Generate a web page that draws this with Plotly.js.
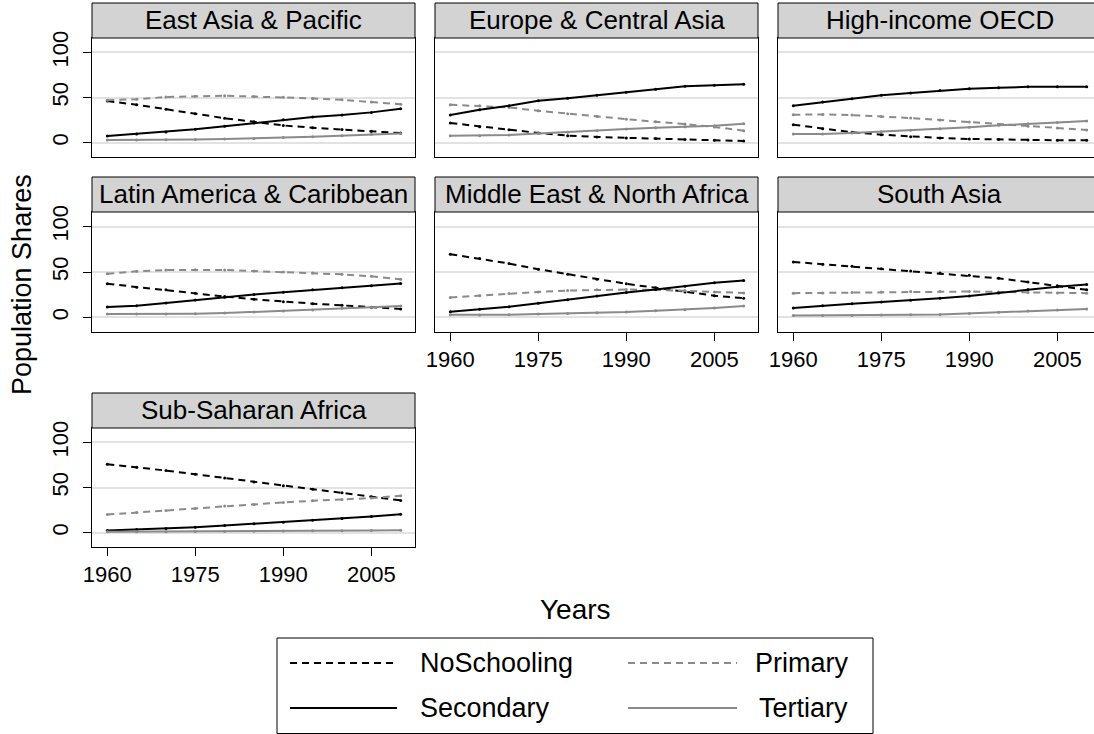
<!DOCTYPE html>
<html>
<head>
<meta charset="utf-8">
<script src="https://cdn.plot.ly/plotly-3.0.1.min.js"></script>
<style>html,body{margin:0;padding:0;background:#fff;}#chart{width:1094px;height:734px;}</style>
</head>
<body>
<div id="chart"></div>
<script>
// ---------- DATA ----------
const years = [1960, 1965, 1970, 1975, 1980, 1985, 1990, 1995, 2000, 2005, 2010];
const regions = ["East Asia & Pacific", "Europe & Central Asia", "High-income OECD",
  "Latin America & Caribbean", "Middle East & North Africa", "South Asia", "Sub-Saharan Africa"];
const seriesNames = ["NoSchooling", "Primary", "Secondary", "Tertiary"];
const xTickLabels = [1960, 1975, 1990, 2005];
const yTickLabels = [0, 50, 100];

const eapNoSchooling = [46, 42, 37, 32, 27, 23, 19, 16.5, 14.5, 12.5, 10.5];
const eapPrimary     = [47, 48, 50.5, 51.5, 52, 51, 50.4, 49, 47.4, 45, 42.5];
const eapSecondary   = [7.4, 9.6, 11.8, 14.7, 18, 21.7, 25.4, 28.3, 30.5, 33.5, 37.5];
const eapTertiary    = [2.9, 2.9, 3, 3.3, 4, 4.4, 5.5, 6.6, 7.7, 9.2, 10];

const ecaNoSchooling = [21.7, 17.6, 14.3, 10.7, 7.7, 6.2, 5.1, 4.4, 3.3, 2.6, 1.8];
const ecaPrimary     = [41.9, 40.8, 39, 35.3, 32, 29, 26, 23, 20.6, 17.3, 13.2];
const ecaSecondary   = [30.5, 36.4, 40.8, 46.3, 49.3, 52.6, 55.9, 59.2, 62.5, 63.6, 64.7];
const ecaTertiary    = [7.7, 7.7, 8.5, 10, 11.4, 13.2, 15, 16.5, 17.6, 18.8, 21];

const hioNoSchooling = [19.9, 15.4, 11.4, 8.8, 6.6, 5.1, 4, 3.3, 2.9, 2.6, 2.6];
const hioPrimary     = [30.9, 31.2, 30.5, 29, 27.2, 25, 22.8, 20.2, 18, 16.2, 14];
const hioSecondary   = [40.8, 44.9, 48.5, 52.6, 55.1, 57.7, 59.6, 60.7, 61.8, 61.8, 61.8];
const hioTertiary    = [9.6, 9.6, 10.7, 12.1, 13.6, 15.4, 16.9, 19.1, 21, 22.4, 23.9];

const lacNoSchooling = [37, 33.3, 30.4, 26.7, 23, 20, 17.4, 15.2, 13.3, 11.1, 9.3];
const lacPrimary     = [48, 50.7, 52.2, 52.6, 52.2, 51, 50, 48.9, 47.4, 45.2, 41.9];
const lacSecondary   = [11.5, 13, 16, 19.3, 22.2, 25.2, 27.8, 30.4, 32.6, 34.8, 37.4];
const lacTertiary    = [3.7, 3.7, 3.7, 4, 4.8, 5.9, 7, 8.1, 10, 11.1, 12.6];

const menaNoSchooling = [69.6, 64.8, 59.3, 53, 47.4, 41.9, 37, 32.6, 28.1, 24, 21.1];
const menaPrimary     = [21.9, 24, 26.3, 28.1, 29.6, 30.4, 30.7, 30.4, 29.6, 28.1, 27];
const menaSecondary   = [6.3, 8.9, 11.9, 15.6, 19.6, 23.7, 27.4, 30.7, 34.4, 38.1, 40.7];
const menaTertiary    = [3, 2.6, 3, 3.7, 4.4, 5.2, 5.9, 7.4, 8.5, 10.4, 12.6];

const saNoSchooling = [61.1, 58.5, 56.3, 53.7, 51.1, 48.9, 46.3, 43, 38.9, 34.8, 30.4];
const saPrimary     = [26.7, 27, 27.4, 28.1, 28.5, 28.5, 28.5, 28.1, 27.4, 27, 26.7];
const saSecondary   = [10.4, 13, 15.2, 17, 18.9, 21.1, 23.7, 27, 30.7, 33.7, 36.3];
const saTertiary    = [2.2, 2.2, 2.2, 2.6, 3, 3.3, 4.4, 5.6, 7, 8.1, 9.3];

const ssaNoSchooling = [75.8, 72.5, 68.8, 64.7, 60.6, 56.1, 52, 48, 44.2, 39.8, 35.7];
const ssaPrimary     = [20, 22.3, 24.5, 26.8, 29.4, 31.2, 33.5, 35.3, 36.8, 38.3, 40.9];
const ssaSecondary   = [2.2, 3.3, 4.5, 5.9, 7.8, 9.7, 11.5, 13.8, 15.6, 17.8, 20.4];
const ssaTertiary    = [0.8, 0.9, 1, 1.1, 1.3, 1.5, 1.7, 1.9, 2.1, 2.4, 2.7];

// ---------- BUILD ----------
const regionData = [
  [eapNoSchooling, eapPrimary, eapSecondary, eapTertiary],
  [ecaNoSchooling, ecaPrimary, ecaSecondary, ecaTertiary],
  [hioNoSchooling, hioPrimary, hioSecondary, hioTertiary],
  [lacNoSchooling, lacPrimary, lacSecondary, lacTertiary],
  [menaNoSchooling, menaPrimary, menaSecondary, menaTertiary],
  [saNoSchooling, saPrimary, saSecondary, saTertiary],
  [ssaNoSchooling, ssaPrimary, ssaSecondary, ssaTertiary]
];

const W = 1094, H = 734;
const FONT = "Liberation Sans, Arial, Helvetica, sans-serif";
const GRAY = "#8a8a8a";
const styles = [
  {color: "#000000", dash: "7px,5px"},
  {color: GRAY, dash: "7px,5px"},
  {color: "#000000", dash: "solid"},
  {color: GRAY, dash: "solid"}
];
const px = v => v / W;
const py = v => 1 - v / H;

const colLeft = [92, 435, 778];
const colW = 323;
const rowTop = [38, 212, 428];
const plotH = 119;
const stripH = 35;
const pxPerYear = 5.868;
const xMin = 1960 - 15.3 / pxPerYear;

const traces = [];
const layout = {
  width: W, height: H,
  margin: {l: 0, r: 0, t: 0, b: 0},
  paper_bgcolor: "#ffffff",
  plot_bgcolor: "#ffffff",
  showlegend: false,
  font: {family: FONT, color: "#000000"},
  shapes: [],
  annotations: []
};

const xLabelPanels = [4, 5, 6]; // 0-based indices with x tick labels

regionData.forEach((series, i) => {
  const row = Math.floor(i / 3), col = i % 3;
  const ax = i + 1;
  series.forEach((vals, s) => {
    traces.push({
      type: "scatter", mode: "lines+markers",
      x: years, y: vals, name: seriesNames[s],
      xaxis: "x" + ax, yaxis: "y" + ax,
      line: {color: styles[s].color, dash: styles[s].dash, width: 2},
      marker: {color: styles[s].color, size: 3},
      hoverinfo: "x+y+name"
    });
  });
  const L = colLeft[col];
  const R = col === 2 ? W : L + colW;
  const T = rowTop[row];
  const B = T + plotH + (row === 1 ? 1 : 0);
  const xMax = xMin + (R - L) / pxPerYear;
  const showX = xLabelPanels.includes(i);
  layout["xaxis" + ax] = {
    domain: [px(L), px(R)],
    anchor: "y" + ax,
    range: [xMin, xMax],
    tickvals: xTickLabels,
    ticktext: xTickLabels.map(String),
    showticklabels: showX,
    ticks: showX ? "outside" : "",
    ticklen: 8, tickwidth: 1, tickcolor: "#000",
    tickfont: {size: 22, family: FONT},
    showgrid: false, zeroline: false,
    showline: true, mirror: true, linecolor: "#000", linewidth: 1
  };
  const showY = col === 0;
  layout["yaxis" + ax] = {
    domain: [py(B), py(T)],
    anchor: "x" + ax,
    range: [-16, 116],
    tickvals: yTickLabels,
    ticktext: yTickLabels.map(String),
    showticklabels: showY,
    ticks: showY ? "outside" : "",
    ticklen: 8, tickwidth: 1, tickcolor: "#000",
    tickangle: -90,
    ticklabelstandoff: 6,
    tickfont: {size: 22, family: FONT},
    showgrid: true, gridcolor: "#e2e2e2", gridwidth: 2,
    zeroline: false,
    showline: true, mirror: col === 2 ? false : true, linecolor: "#000", linewidth: 1
  };
  // strip
  const SR = col === 2 ? L + colW : R;
  layout.shapes.push({
    type: "rect", xref: "paper", yref: "paper",
    x0: px(L), x1: px(SR), y0: py(T), y1: py(T - stripH),
    fillcolor: "#d3d3d3", line: {color: "#000", width: 1}, layer: "above"
  });
  layout.annotations.push({
    xref: "paper", yref: "paper",
    x: px((L + SR) / 2), y: py(T - stripH / 2),
    xanchor: "center", yanchor: "middle",
    text: regions[i], showarrow: false,
    font: {size: 26, family: FONT, color: "#000"}
  });
});

// axis titles
layout.annotations.push({
  xref: "paper", yref: "paper", x: px(22), y: py(285),
  xanchor: "center", yanchor: "middle", textangle: -90,
  text: "Population Shares", showarrow: false,
  font: {size: 27, family: FONT}
});
layout.annotations.push({
  xref: "paper", yref: "paper", x: px(575), y: py(609),
  xanchor: "center", yanchor: "middle",
  text: "Years", showarrow: false,
  font: {size: 28, family: FONT}
});

// legend (drawn)
layout.shapes.push({
  type: "rect", xref: "paper", yref: "paper",
  x0: px(277), x1: px(873), y0: py(733.5), y1: py(638),
  fillcolor: "rgba(0,0,0,0)", line: {color: "#000", width: 1}
});
const legendPos = [
  {x0: 290, x1: 397, y: 663, tx: 418, anchor: "left"},
  {x0: 628, x1: 737, y: 663, tx: 850, anchor: "right"},
  {x0: 290, x1: 397, y: 708, tx: 418, anchor: "left"},
  {x0: 628, x1: 737, y: 708, tx: 850, anchor: "right"}
];
seriesNames.forEach((nm, s) => {
  const p = legendPos[s];
  layout.shapes.push({
    type: "line", xref: "paper", yref: "paper",
    x0: px(p.x0), x1: px(p.x1), y0: py(p.y), y1: py(p.y),
    line: {color: styles[s].color, dash: styles[s].dash, width: 2}
  });
  layout.annotations.push({
    xref: "paper", yref: "paper", x: px(p.tx), y: py(p.y),
    xanchor: p.anchor, yanchor: "middle",
    text: nm, showarrow: false,
    font: {size: 27, family: FONT}
  });
});

Plotly.newPlot("chart", traces, layout, {displayModeBar: false, staticPlot: true});
</script>
</body>
</html>
